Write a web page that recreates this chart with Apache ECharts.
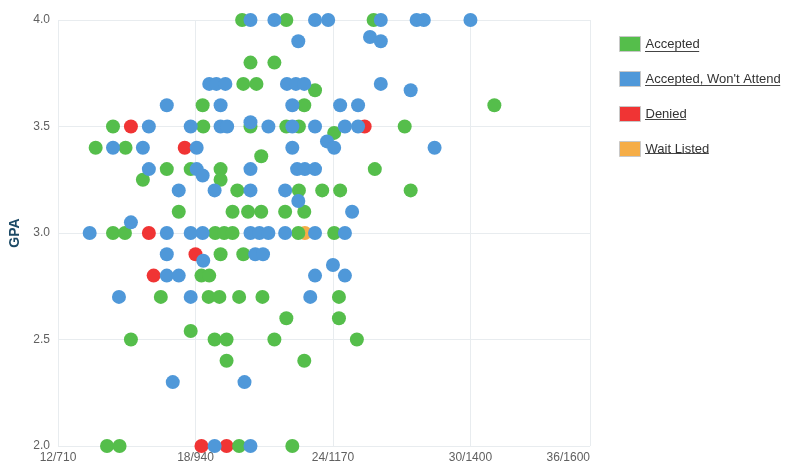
<!DOCTYPE html>
<html>
<head>
<meta charset="utf-8">
<script src="https://cdn.jsdelivr.net/npm/echarts@6/dist/echarts.min.js"></script>
<style>
  html, body { margin: 0; padding: 0; background: #fff; }
  #chart { width: 800px; height: 467px; }
</style>
</head>
<body>
<div id="chart"></div>
<script>
// x axis is SAT scale, labelled ACT/SAT
const satTicks = [710, 940, 1170, 1400, 1600];
const tickLabels = ['12/710', '18/940', '24/1170', '30/1400', '36/1600'];

const names = ['Accepted', "Accepted, Won't Attend", 'Denied', 'Wait Listed'];
const colors = ['#55be4b', '#4f98d9', '#f03434', '#f5ad47'];

// [sat, gpa]
const accepted = [
  [1018, 4.0], [1092, 4.0], [1238, 4.0],
  [1032, 3.8], [1072, 3.8],
  [1020, 3.7], [1042, 3.7], [1140, 3.67],
  [952, 3.6], [1122, 3.6], [1440, 3.6],
  [802, 3.5], [953, 3.5], [1032, 3.5], [1092, 3.5], [1113, 3.5], [1290, 3.5], [1172, 3.47],
  [773, 3.4], [823, 3.4], [1050, 3.36],
  [892, 3.3], [932, 3.3], [982, 3.3], [1240, 3.3], [982, 3.25], [852, 3.25],
  [1010, 3.2], [1113, 3.2], [1152, 3.2], [1182, 3.2], [1300, 3.2],
  [912, 3.1], [1002, 3.1], [1028, 3.1], [1050, 3.1], [1090, 3.1], [1122, 3.1],
  [802, 3.0], [822, 3.0], [973, 3.0], [988, 3.0], [1002, 3.0], [1112, 3.0], [1172, 3.0],
  [982, 2.9], [1020, 2.9],
  [950, 2.8], [963, 2.8],
  [882, 2.7], [962, 2.7], [980, 2.7], [1013, 2.7], [1052, 2.7], [1180, 2.7],
  [1092, 2.6], [1180, 2.6], [932, 2.54],
  [832, 2.5], [972, 2.5], [992, 2.5], [1072, 2.5], [1210, 2.5],
  [992, 2.4], [1122, 2.4],
  [792, 2.0], [813, 2.0], [1013, 2.0], [1102, 2.0]
];
const wontAttend = [
  [1032, 4.0], [1072, 4.0], [1140, 4.0], [1162, 4.0], [1250, 4.0], [1310, 4.0], [1322, 4.0], [1400, 4.0],
  [1232, 3.92], [1112, 3.9], [1250, 3.9],
  [963, 3.7], [975, 3.7], [990, 3.7], [1093, 3.7], [1108, 3.7], [1122, 3.7], [1250, 3.7], [1300, 3.67],
  [892, 3.6], [982, 3.6], [1102, 3.6], [1182, 3.6], [1212, 3.6],
  [1032, 3.52],
  [862, 3.5], [932, 3.5], [982, 3.5], [993, 3.5], [1062, 3.5], [1102, 3.5], [1140, 3.5], [1190, 3.5], [1212, 3.5],
  [1160, 3.43],
  [802, 3.4], [852, 3.4], [942, 3.4], [1102, 3.4], [1172, 3.4], [1340, 3.4],
  [862, 3.3], [942, 3.3], [1032, 3.3], [1110, 3.3], [1123, 3.3], [1140, 3.3], [952, 3.27],
  [912, 3.2], [972, 3.2], [1032, 3.2], [1090, 3.2], [1112, 3.15],
  [1202, 3.1], [832, 3.05],
  [763, 3.0], [892, 3.0], [932, 3.0], [952, 3.0], [1032, 3.0], [1047, 3.0], [1062, 3.0], [1090, 3.0], [1140, 3.0], [1190, 3.0],
  [892, 2.9], [1040, 2.9], [1053, 2.9], [953, 2.87], [1170, 2.85],
  [892, 2.8], [912, 2.8], [1140, 2.8], [1190, 2.8],
  [812, 2.7], [932, 2.7], [1132, 2.7],
  [902, 2.3], [1022, 2.3],
  [972, 2.0], [1032, 2.0]
];
const denied = [
  [832, 3.5], [1223, 3.5], [922, 3.4], [862, 3.0], [940, 2.9], [870, 2.8], [950, 2.0], [992, 2.0]
];
const waitListed = [
  [1123, 3.0]
];

const chart = echarts.init(document.getElementById('chart'));
const font = '"Liberation Sans", Arial, sans-serif';

function scatter(i, data) {
  return {
    name: names[i],
    type: 'scatter',
    data: data,
    symbol: 'circle',
    symbolSize: 14,
    itemStyle: { color: colors[i], opacity: 1 },
    emphasis: { disabled: true }
  };
}

// legend underline (text is underlined in the original)
const legendLeft = 619, legendTop = 36, iconW = 21, itemH = 15, itemGap = 19;
const textX = legendLeft + iconW + 5;
const ctx = document.createElement('canvas').getContext('2d');
ctx.font = '13px ' + font;
const underlines = names.map((n, i) => {
  const y = Math.round(legendTop + i * (itemH + itemGap) + itemH / 2 + 7) + 0.5;
  return {
    type: 'line',
    shape: { x1: textX, y1: y, x2: textX + ctx.measureText(n).width, y2: y },
    style: { stroke: '#444', lineWidth: 1 },
    silent: true
  };
});

chart.setOption({
  animation: false,
  grid: { left: 55, right: 210, top: 20, bottom: 21 },
  textStyle: { fontFamily: font },
  legend: {
    orient: 'vertical',
    left: legendLeft,
    top: legendTop,
    padding: 0,
    icon: 'rect',
    itemWidth: iconW,
    itemHeight: itemH,
    itemGap: itemGap,
    data: names,
    itemStyle: { borderColor: '#c8c8c8', borderWidth: 1 },
    textStyle: { fontSize: 13, color: '#333', fontFamily: font }
  },
  xAxis: {
    type: 'value',
    min: 710,
    max: 1600,
    axisLine: { show: false },
    axisTick: { show: false, customValues: satTicks },
    splitLine: { show: true, lineStyle: { color: '#e8ecef', width: 1 } },
    axisLabel: {
      customValues: satTicks,
      color: '#606060',
      fontSize: 12,
      margin: 6,
      alignMinLabel: 'center',
      alignMaxLabel: 'right',
      formatter: v => tickLabels[satTicks.indexOf(v)] || ''
    }
  },
  yAxis: {
    type: 'value',
    min: 2,
    max: 4,
    interval: 0.5,
    name: 'GPA',
    nameLocation: 'middle',
    nameGap: 36,
    nameTextStyle: { color: '#1c4a66', fontWeight: 'bold', fontSize: 14, fontFamily: font },
    axisLine: { show: false },
    axisTick: { show: false },
    splitLine: { show: true, lineStyle: { color: '#e8ecef', width: 1 } },
    axisLabel: {
      color: '#606060',
      fontSize: 12,
      margin: 8,
      formatter: v => v.toFixed(1)
    }
  },
  graphic: underlines,
  series: [
    scatter(2, denied),
    scatter(3, waitListed),
    scatter(0, accepted),
    scatter(1, wontAttend)
  ]
});
</script>
</body>
</html>
